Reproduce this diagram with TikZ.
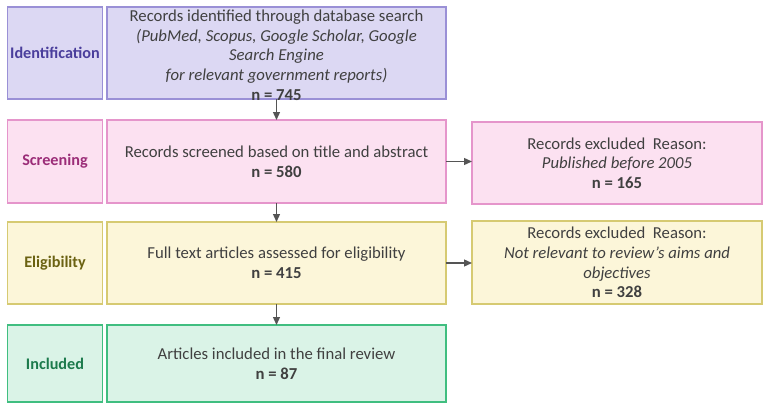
\documentclass[tikz,border=0pt]{standalone}
\usepackage{fontspec}
\setmainfont{Carlito}
\usetikzlibrary{arrows.meta}
\definecolor{idfill}{HTML}{DCD8F3}
\definecolor{iddraw}{HTML}{9A90D6}
\definecolor{idtext}{HTML}{4A3E9C}
\definecolor{scfill}{HTML}{FCE1F1}
\definecolor{scdraw}{HTML}{E595CB}
\definecolor{sctext}{HTML}{9B2D78}
\definecolor{elfill}{HTML}{FCF6D9}
\definecolor{eldraw}{HTML}{D6CA72}
\definecolor{eltext}{HTML}{6B6212}
\definecolor{infill}{HTML}{DAF3E7}
\definecolor{indraw}{HTML}{40BE80}
\definecolor{intext}{HTML}{1C7A4C}
\definecolor{bodytext}{HTML}{404040}
\definecolor{arrowcol}{HTML}{555555}
\begin{document}
\begin{tikzpicture}[x=1pt,y=-1pt,
  every node/.style={inner sep=0pt, outer sep=0pt, font=\fontsize{16.7}{19.7}\selectfont, text=bodytext, line width=1.5pt},
  labelbox/.style={draw, minimum width=95pt, font=\fontsize{16.2}{19.7}\selectfont\bfseries},
  mainbox/.style={draw, minimum width=339pt, align=center},
  exbox/.style={draw, minimum width=290pt, align=center},
  conn/.style={draw=arrowcol, line width=1.3pt, -{Triangle[length=8pt,width=7pt]}}]
\useasboundingbox (0,0) rectangle (766,412);
% Identification
\node[labelbox, fill=idfill, draw=iddraw, text=idtext, minimum height=92pt] (idl) at (55,53) {Identification};
\node[mainbox, fill=idfill, draw=iddraw, minimum height=92pt] (idm) at (276.5,53) {};
\node[align=center] (idt) at (276.5,55) {Records identified through database search\\
  \textit{(PubMed, Scopus, Google Scholar, Google}\\
  \textit{Search Engine}\\
  \textit{for relevant government reports)}\\
  \textbf{n = 745}};
% Screening
\node[labelbox, fill=scfill, draw=scdraw, text=sctext, minimum height=83pt] (scl) at (55,161.5) {Screening};
\node[mainbox, fill=scfill, draw=scdraw, minimum height=83pt] (scm) at (276.5,161.5) {Records screened based on title and abstract\\ \textbf{n = 580}};
\node[exbox, fill=scfill, draw=scdraw, minimum height=82pt] (ex1) at (617,163) {Records excluded\ \ Reason:\\ \textit{Published before 2005}\\ \textbf{n = 165}};
% Eligibility
\node[labelbox, fill=elfill, draw=eldraw, text=eltext, minimum height=82pt] (ell) at (55,263) {Eligibility};
\node[mainbox, fill=elfill, draw=eldraw, minimum height=82pt] (elm) at (276.5,263) {Full text articles assessed for eligibility\\ \textbf{n = 415}};
\node[exbox, fill=elfill, draw=eldraw, minimum height=83pt] (ex2) at (617,262.5) {Records excluded\ \ Reason:\\ \textit{Not relevant to review's aims and}\\ \textit{objectives}\\ \textbf{n = 328}};
% Included
\node[labelbox, fill=infill, draw=indraw, text=intext, minimum height=77pt] (inl) at (55,363.5) {Included};
\node[mainbox, fill=infill, draw=indraw, minimum height=77pt] (inm) at (276.5,363.5) {Articles included in the final review\\ \textbf{n = 87}};
% connectors
\draw[conn] (idm.south) -- (scm.north);
\draw[conn] (scm.south) -- (elm.north);
\draw[conn] (elm.south) -- (inm.north);
\draw[conn] (scm.east) -- (ex1.west |- scm.east);
\draw[conn] (elm.east) -- (ex2.west |- elm.east);
\end{tikzpicture}
\end{document}
